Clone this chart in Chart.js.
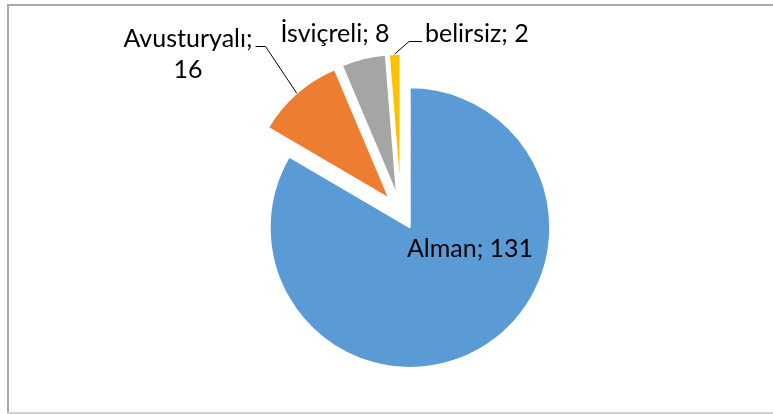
<!DOCTYPE html>
<html>
<head>
<meta charset="utf-8">
<script src="https://cdn.jsdelivr.net/npm/chart.js@4.4.0/dist/chart.umd.min.js"></script>
<style>
  html, body { margin: 0; padding: 0; background: #fff; }
  .wrap { position: relative; width: 773px; height: 414px; }
</style>
</head>
<body>
<div class="wrap"><canvas id="pie"></canvas></div>
<script>
const labels = ["Alman", "Avusturyalı", "İsviçreli", "belirsiz"];
const counts = [131, 16, 8, 2];
const colors = ["#5B9BD5", "#ED7D31", "#A5A5A5", "#FFC000"];

// every slice is pulled out of the pie by the same distance
const explode = 18;
const labelFont = "25px Lato";

// where each data label sits, measured from the pie centre (baseline of first line)
const labelSpots = [
  { dx: 69, dy: 45, align: "center" },
  { dx: -213, dy: -165, align: "center", wrap: true, leader: true },
  { dx: -66, dy: -170, align: "center" },
  { dx: 24, dy: -170, align: "left", leader: true },
];

// light frame round the chart
const frame = {
  id: "frame",
  beforeDraw(chart) {
    const ctx = chart.ctx;
    ctx.save();
    ctx.fillStyle = "#fff";
    ctx.fillRect(0, 0, chart.width, chart.height);
    ctx.fillStyle = "#a9a9a9";
    ctx.fillRect(7, 4, chart.width, 2);
    ctx.fillRect(7, 4, 2, chart.height);
    ctx.fillStyle = "#d0d0d0";
    ctx.fillRect(7, 412, chart.width, 2);
    ctx.restore();
  },
};

// draw each arc shifted outwards along its bisector
const explodeSlices = {
  id: "explodeSlices",
  beforeDatasetDraw(chart, args) {
    const ctx = chart.ctx;
    args.meta.data.forEach((arc) => {
      const mid = (arc.startAngle + arc.endAngle) / 2;
      ctx.save();
      ctx.translate(Math.cos(mid) * explode, Math.sin(mid) * explode);
      arc.draw(ctx);
      ctx.restore();
    });
    return false;
  },
};

const dataLabels = {
  id: "dataLabels",
  afterDatasetsDraw(chart) {
    const ctx = chart.ctx;
    const arcs = chart.getDatasetMeta(0).data;
    ctx.save();
    ctx.font = labelFont;
    ctx.fillStyle = "#000";
    ctx.strokeStyle = "#000";
    ctx.lineWidth = 1;
    ctx.textBaseline = "alphabetic";
    arcs.forEach((arc, i) => {
      const spot = labelSpots[i];
      const x = arc.x + spot.dx;
      const y = arc.y + spot.dy;
      const lines = spot.wrap
        ? [labels[i] + ";", String(counts[i])]
        : [labels[i] + "; " + counts[i]];
      ctx.textAlign = spot.align;
      lines.forEach((t, k) => ctx.fillText(t, x, y + k * 31));

      if (!spot.leader) return;
      // leader line from the label to the middle of the slice's rim
      const mid = (arc.startAngle + arc.endAngle) / 2;
      const r = arc.outerRadius + explode;
      const tx = arc.x + Math.cos(mid) * r;
      const ty = arc.y + Math.sin(mid) * r;
      const w = ctx.measureText(lines[0]).width;
      let sx, ex;
      if (spot.align === "left") {
        sx = x - 3;
        ex = sx - 13;
      } else {
        sx = x + w / 2 + 3;
        ex = sx + 10;
      }
      const ly = Math.round(y - 1) + 0.5;
      ctx.beginPath();
      ctx.moveTo(sx, ly);
      ctx.lineTo(ex, ly);
      ctx.lineTo(tx, ty);
      ctx.stroke();
    });
    ctx.restore();
  },
};

new Chart(document.getElementById("pie"), {
  type: "pie",
  data: {
    labels: labels,
    datasets: [
      {
        data: counts,
        backgroundColor: colors,
        borderColor: "#fff",
        borderWidth: 1.5,
        radius: 140,
      },
    ],
  },
  options: {
    responsive: true,
    maintainAspectRatio: false,
    animation: false,
    layout: {
      padding: { left: 29, right: 0, top: 10, bottom: 0 },
    },
    plugins: {
      legend: { display: false },
      tooltip: { enabled: false },
    },
  },
  plugins: [frame, explodeSlices, dataLabels],
});
</script>
</body>
</html>
